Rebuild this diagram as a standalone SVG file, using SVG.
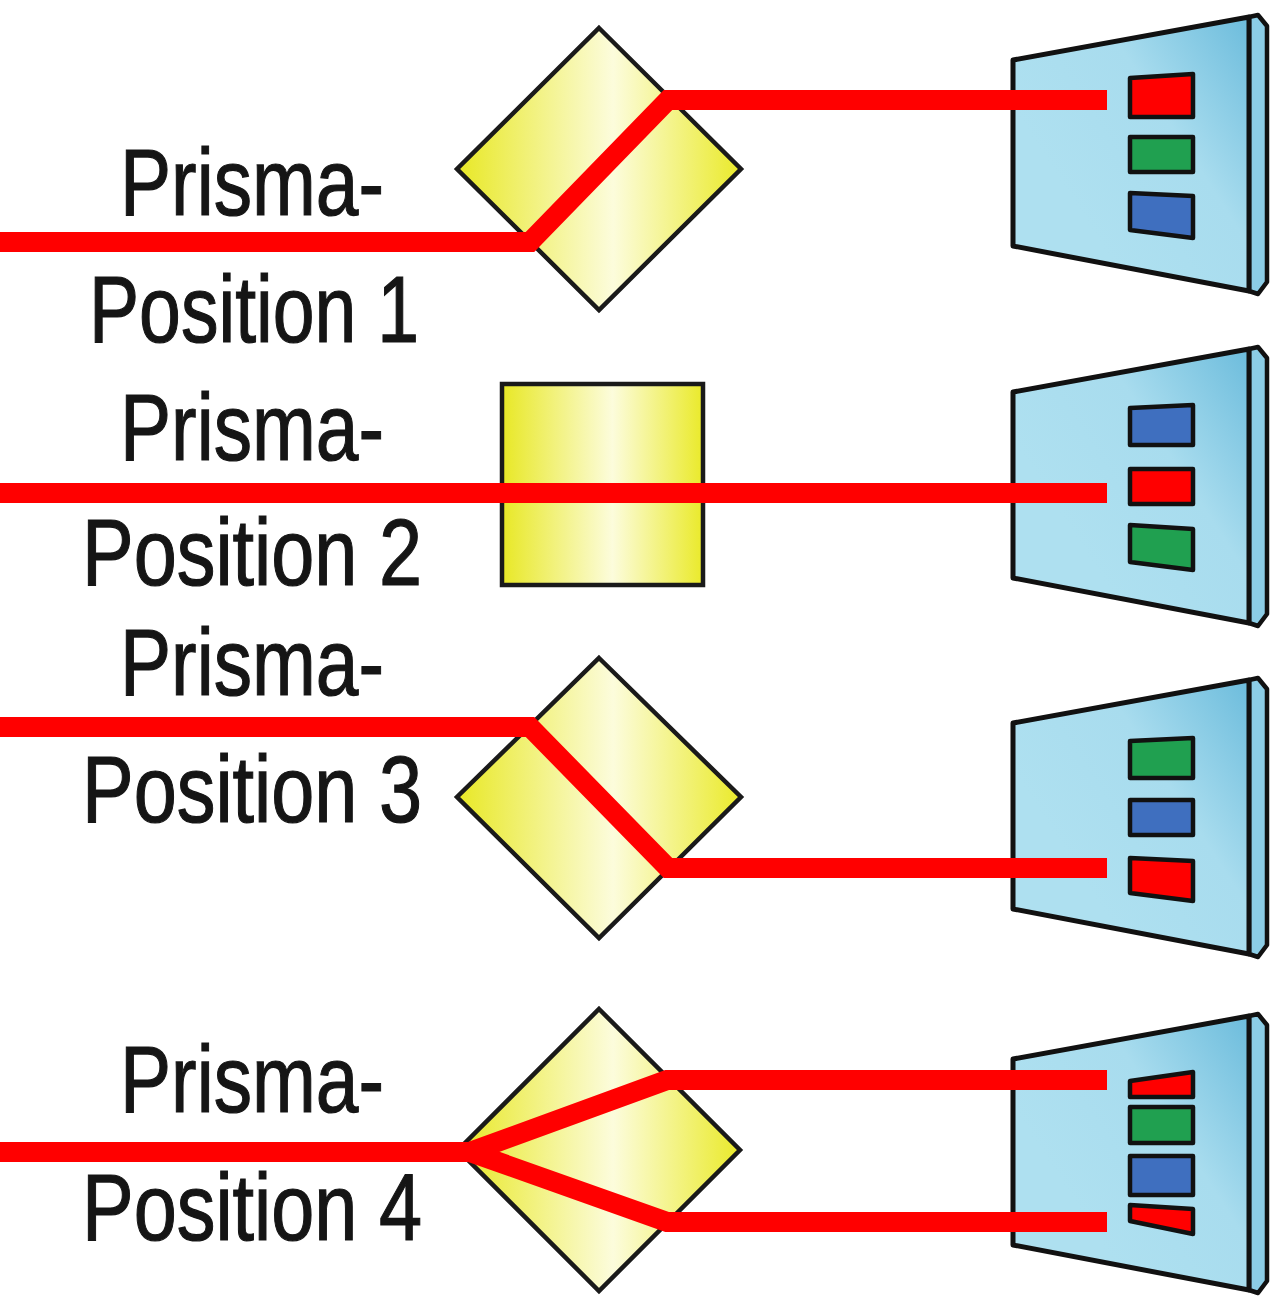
<svg xmlns="http://www.w3.org/2000/svg" width="1280" height="1306" viewBox="0 0 1280 1306">
<style>
.lbl{font-family:"Liberation Sans",Arial,sans-serif;font-size:95px;fill:#151515;stroke:#151515;stroke-width:1.2}
.prism{fill:url(#yel);stroke:#1a1a1a;stroke-width:4.5;stroke-linejoin:miter}
.beam{fill:none;stroke:#ff0000;stroke-width:20;stroke-linejoin:miter;stroke-linecap:butt}
.front{fill:url(#blu);stroke:#111;stroke-width:5;stroke-linejoin:round}
.side{fill:#8ccde6;stroke:#111;stroke-width:4.5;stroke-linejoin:round}
.px{stroke:#111;stroke-width:4.5;stroke-linejoin:round}
.r{fill:#ff0000}.g{fill:#20a050}.b{fill:#3f6fbf}
</style>
<defs>
<linearGradient id="yel" x1="0" y1="0" x2="1" y2="0">
<stop offset="0" stop-color="#e8e825"/>
<stop offset="0.55" stop-color="#fcfcdc"/>
<stop offset="1" stop-color="#eaea2a"/>
</linearGradient>
<linearGradient id="blu" x1="1" y1="0" x2="0.2" y2="0.6">
<stop offset="0" stop-color="#6cbcdc"/>
<stop offset="0.5" stop-color="#a8dcee"/>
<stop offset="1" stop-color="#aee0f0"/>
</linearGradient>
<g id="screen">
<polygon class="side" points="1249,17 1258,15 1267,26 1267,282 1258,294 1249,291"/>
<polygon class="front" points="1013,60 1249,17 1249,291 1013,246"/>
</g>
</defs>

<g id="labels">
<text class="lbl" x="120" y="215" textLength="264" lengthAdjust="spacingAndGlyphs">Prisma-</text>
<text class="lbl" x="89" y="342" textLength="330" lengthAdjust="spacingAndGlyphs">Position 1</text>
<text class="lbl" x="120" y="460" textLength="264" lengthAdjust="spacingAndGlyphs">Prisma-</text>
<text class="lbl" x="82" y="585" textLength="340" lengthAdjust="spacingAndGlyphs">Position 2</text>
<text class="lbl" x="120" y="695" textLength="264" lengthAdjust="spacingAndGlyphs">Prisma-</text>
<text class="lbl" x="82" y="822" textLength="340" lengthAdjust="spacingAndGlyphs">Position 3</text>
<text class="lbl" x="120" y="1112" textLength="264" lengthAdjust="spacingAndGlyphs">Prisma-</text>
<text class="lbl" x="82" y="1240" textLength="340" lengthAdjust="spacingAndGlyphs">Position 4</text>
</g>

<g id="prism1"><polygon class="prism" points="599,28 741,169 599,310 457,169"/></g>
<g id="prism2"><rect class="prism" x="502" y="384" width="201" height="201"/></g>
<g id="prism3"><polygon class="prism" points="599,658 741,797 599,938 457,797"/></g>
<g id="prism4"><polygon class="prism" points="599,1009 740,1150 599,1291 458,1150"/></g>

<g id="screen1">
<use href="#screen"/>
<polygon class="px r" points="1130,78 1193,74 1193,117 1130,117"/>
<polygon class="px g" points="1130,137 1193,137 1193,172 1130,172"/>
<polygon class="px b" points="1130,193 1193,196 1193,238 1130,230"/>
</g>
<g id="screen2" transform="translate(0,332)">
<use href="#screen"/>
<polygon class="px b" points="1130,76 1193,73 1193,113 1130,113"/>
<polygon class="px r" points="1130,137 1193,137 1193,172 1130,172"/>
<polygon class="px g" points="1130,193 1193,197 1193,238 1130,230"/>
</g>
<g id="screen3" transform="translate(0,663)">
<use href="#screen"/>
<polygon class="px g" points="1130,78 1193,75 1193,115 1130,115"/>
<polygon class="px b" points="1130,137 1193,137 1193,172 1130,172"/>
<polygon class="px r" points="1130,195 1193,198 1193,238 1130,230"/>
</g>
<g id="screen4" transform="translate(0,999)">
<use href="#screen"/>
<polygon class="px r" points="1130,82 1193,73 1193,98 1130,98"/>
<polygon class="px g" points="1130,108 1193,108 1193,144 1130,144"/>
<polygon class="px b" points="1130,157 1193,157 1193,196 1130,196"/>
<polygon class="px r" points="1130,206 1193,210 1193,235 1130,222"/>
</g>

<g id="connectors">
<path class="beam" d="M0,242 L530,242 L668,100 L1107,100"/>
<path class="beam" d="M0,493 L1107,493"/>
<path class="beam" d="M0,727 L530,727 L668,868 L1107,868"/>
<path class="beam" d="M0,1152 L470,1152"/>
<path class="beam" d="M470,1152 L667,1080 L1107,1080"/>
<path class="beam" d="M470,1152 L667,1222 L1107,1222"/>
</g>
</svg>
